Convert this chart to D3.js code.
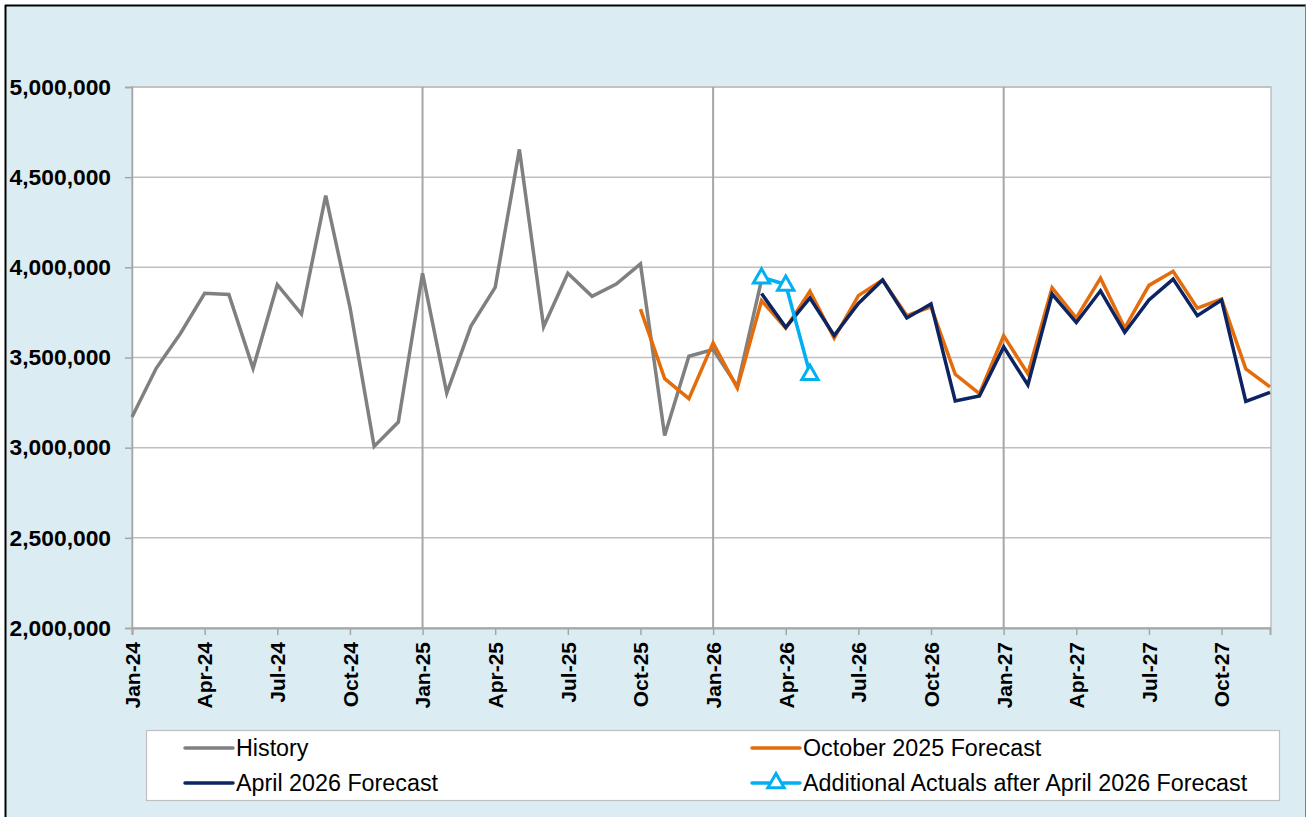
<!DOCTYPE html>
<html>
<head>
<meta charset="utf-8">
<script src="https://cdn.jsdelivr.net/npm/d3@7"></script>
<style>
  html, body { margin: 0; padding: 0; background: #ffffff; }
  svg { display: block; font-family: "Liberation Sans", Arial, sans-serif; }
</style>
</head>
<body>
<svg id="chart" width="1307" height="817"></svg>
<script>
// ---------- DATA ----------
const months = [
  "Jan-24","Feb-24","Mar-24","Apr-24","May-24","Jun-24","Jul-24","Aug-24","Sep-24","Oct-24","Nov-24","Dec-24",
  "Jan-25","Feb-25","Mar-25","Apr-25","May-25","Jun-25","Jul-25","Aug-25","Sep-25","Oct-25","Nov-25","Dec-25",
  "Jan-26","Feb-26","Mar-26","Apr-26","May-26","Jun-26","Jul-26","Aug-26","Sep-26","Oct-26","Nov-26","Dec-26",
  "Jan-27","Feb-27","Mar-27","Apr-27","May-27","Jun-27","Jul-27","Aug-27","Sep-27","Oct-27","Nov-27","Dec-27"
];
const tickLabels = ["Jan-24","Apr-24","Jul-24","Oct-24","Jan-25","Apr-25","Jul-25","Oct-25",
  "Jan-26","Apr-26","Jul-26","Oct-26","Jan-27","Apr-27","Jul-27","Oct-27"];
const yTicks = [2000000, 2500000, 3000000, 3500000, 4000000, 4500000, 5000000];

// History: Jan-24 .. Mar-26
const historyStart = "Jan-24";
const historyValues = [3170000, 3440000, 3633000, 3856000, 3850000, 3440000, 3904000, 3741000, 4398000, 3780000, 3007000, 3142000,
  3967000, 3303000, 3674000, 3889000, 4654000, 3670000, 3967000, 3839000, 3907000, 4019000, 3068000, 3507000,
  3544000, 3340000, 3930000];

// October 2025 Forecast: Oct-25 .. Dec-27
const oct25Start = "Oct-25";
const oct25Values = [3768000, 3383000, 3272000, 3581000, 3331000, 3815000, 3663000, 3867000, 3607000, 3843000, 3930000, 3732000,
  3781000, 3407000, 3300000, 3620000, 3410000, 3887000, 3719000, 3940000, 3663000, 3900000, 3978000, 3774000,
  3824000, 3437000, 3337000];

// April 2026 Forecast: Mar-26 .. Dec-27
const apr26Start = "Mar-26";
const apr26Values = [3855000, 3667000, 3830000, 3622000, 3800000, 3930000, 3719000, 3797000, 3259000, 3287000,
  3559000, 3348000, 3852000, 3694000, 3870000, 3639000, 3819000, 3935000, 3732000, 3819000, 3256000, 3306000];

// Additional Actuals after April 2026 Forecast: Mar-26 .. May-26
const actualsStart = "Mar-26";
const actualsValues = [3945000, 3905000, 3410000];

const seriesNames = ["History", "October 2025 Forecast", "April 2026 Forecast", "Additional Actuals after April 2026 Forecast"];

// ---------- BUILD ----------
function toPoints(start, values) {
  const s = months.indexOf(start);
  return values.map((v, i) => ({ m: s + i, v }));
}
const series = [
  { name: seriesNames[0], pts: toPoints(historyStart, historyValues), color: "#808080", marker: false },
  { name: seriesNames[1], pts: toPoints(oct25Start, oct25Values), color: "#E46C0A", marker: false },
  { name: seriesNames[2], pts: toPoints(apr26Start, apr26Values), color: "#0C2461", marker: false },
  { name: seriesNames[3], pts: toPoints(actualsStart, actualsValues), color: "#00B0F0", marker: true }
];

const svg = d3.select("#chart");
const W = 1307, H = 817;
const plot = { l: 132, r: 1271, t: 87, b: 628 };

// background panel
svg.append("rect").attr("x", 5).attr("y", 5).attr("width", 1301).attr("height", H)
  .attr("fill", "#DBEDF3");
svg.append("line").attr("x1", 5).attr("x2", 1306).attr("y1", 5.5).attr("y2", 5.5)
  .attr("stroke", "#000").attr("stroke-width", 2);
svg.append("line").attr("x1", 5.5).attr("x2", 5.5).attr("y1", 5).attr("y2", H)
  .attr("stroke", "#000").attr("stroke-width", 2);
svg.append("line").attr("x1", 1305.5).attr("x2", 1305.5).attr("y1", 5).attr("y2", H)
  .attr("stroke", "#7f7f7f").attr("stroke-width", 1);

const x = d3.scaleLinear().domain([0, months.length - 1]).range([plot.l, plot.r - 1]);
const y = d3.scaleLinear().domain([2000000, 5000000]).range([plot.b, plot.t]);

// plot area
svg.append("rect").attr("x", plot.l).attr("y", plot.t)
  .attr("width", plot.r - plot.l).attr("height", plot.b - plot.t)
  .attr("fill", "#fff").attr("stroke", "#BFBFBF").attr("stroke-width", 1.5);

// horizontal gridlines
svg.append("g").selectAll("line").data(yTicks).join("line")
  .attr("x1", plot.l).attr("x2", plot.r)
  .attr("y1", d => y(d)).attr("y2", d => y(d))
  .attr("stroke", "#BFBFBF").attr("stroke-width", 1.5);

// vertical year gridlines (January)
const janIdx = months.map((m, i) => m.startsWith("Jan") ? i : -1).filter(i => i > 0);
svg.append("g").selectAll("line").data(janIdx).join("line")
  .attr("x1", d => x(d)).attr("x2", d => x(d))
  .attr("y1", plot.t).attr("y2", plot.b)
  .attr("stroke", "#A6A6A6").attr("stroke-width", 2);

// Y axis
const yAxis = d3.axisLeft(y).tickValues(yTicks).tickFormat(d3.format(",")).tickSize(7).tickPadding(14);
const gy = svg.append("g").attr("transform", `translate(${plot.l},0)`).call(yAxis);
gy.select(".domain").attr("stroke", "#A6A6A6").attr("stroke-width", 1.5);
gy.selectAll(".tick line").attr("stroke", "#A6A6A6").attr("stroke-width", 1.5);
gy.selectAll(".tick text").attr("font-size", 22.8).attr("font-weight", "bold")
  .attr("fill", "#000").attr("font-family", "Liberation Sans, Arial, sans-serif");

// X axis
const tickIdx = tickLabels.map(t => months.indexOf(t));
const xAxis = d3.axisBottom(x).tickValues(tickIdx).tickFormat(d => months[d]).tickSize(7).tickPadding(0);
const gx = svg.append("g").attr("transform", `translate(0,${plot.b})`).call(xAxis);
gx.select(".domain").attr("stroke", "#A6A6A6").attr("stroke-width", 2);
gx.selectAll(".tick line").attr("stroke", "#A6A6A6").attr("stroke-width", 1.5);
gx.selectAll(".tick text")
  .attr("font-size", 21).attr("font-weight", "bold").attr("fill", "#000")
  .attr("font-family", "Liberation Sans, Arial, sans-serif")
  .attr("text-anchor", "end").attr("dy", "0.35em")
  .attr("transform", "translate(0,14) rotate(-90)")
  .attr("x", 0).attr("y", 0);

// Lines
const line = d3.line().x(d => x(d.m)).y(d => y(d.v));
series.forEach(s => {
  svg.append("path").datum(s.pts).attr("d", line)
    .attr("fill", "none").attr("stroke", s.color).attr("stroke-width", 3.5)
    .attr("stroke-linejoin", "miter");
});
const tri = d3.symbol().type(d3.symbolTriangle).size(115);
const act = series[3];
svg.append("g").selectAll("path").data(act.pts).join("path")
  .attr("d", tri).attr("transform", d => `translate(${x(d.m)},${y(d.v) + 1})`)
  .attr("fill", "#fff").attr("stroke", act.color).attr("stroke-width", 3);

// Legend
const lg = svg.append("g");
lg.append("rect").attr("x", 146.5).attr("y", 730.5).attr("width", 1133).attr("height", 70)
  .attr("fill", "#fff").attr("stroke", "#BFBFBF").attr("stroke-width", 1.2);
const legendPos = [
  { s: series[0], lx: 185, ly: 748 },
  { s: series[1], lx: 752, ly: 748 },
  { s: series[2], lx: 185, ly: 783 },
  { s: series[3], lx: 752, ly: 783 }
];
legendPos.forEach(p => {
  lg.append("line").attr("x1", p.lx).attr("x2", p.lx + 48).attr("y1", p.ly).attr("y2", p.ly)
    .attr("stroke", p.s.color).attr("stroke-width", 3.5).attr("stroke-linecap", "round");
  if (p.s.marker) {
    lg.append("path").attr("d", tri).attr("transform", `translate(${p.lx + 24},${p.ly})`)
      .attr("fill", "#fff").attr("stroke", p.s.color).attr("stroke-width", 3);
  }
  lg.append("text").attr("x", p.lx + 51).attr("y", p.ly).attr("dy", "0.35em")
    .attr("font-size", 23.3).attr("fill", "#000").text(p.s.name);
});
</script>
</body>
</html>
